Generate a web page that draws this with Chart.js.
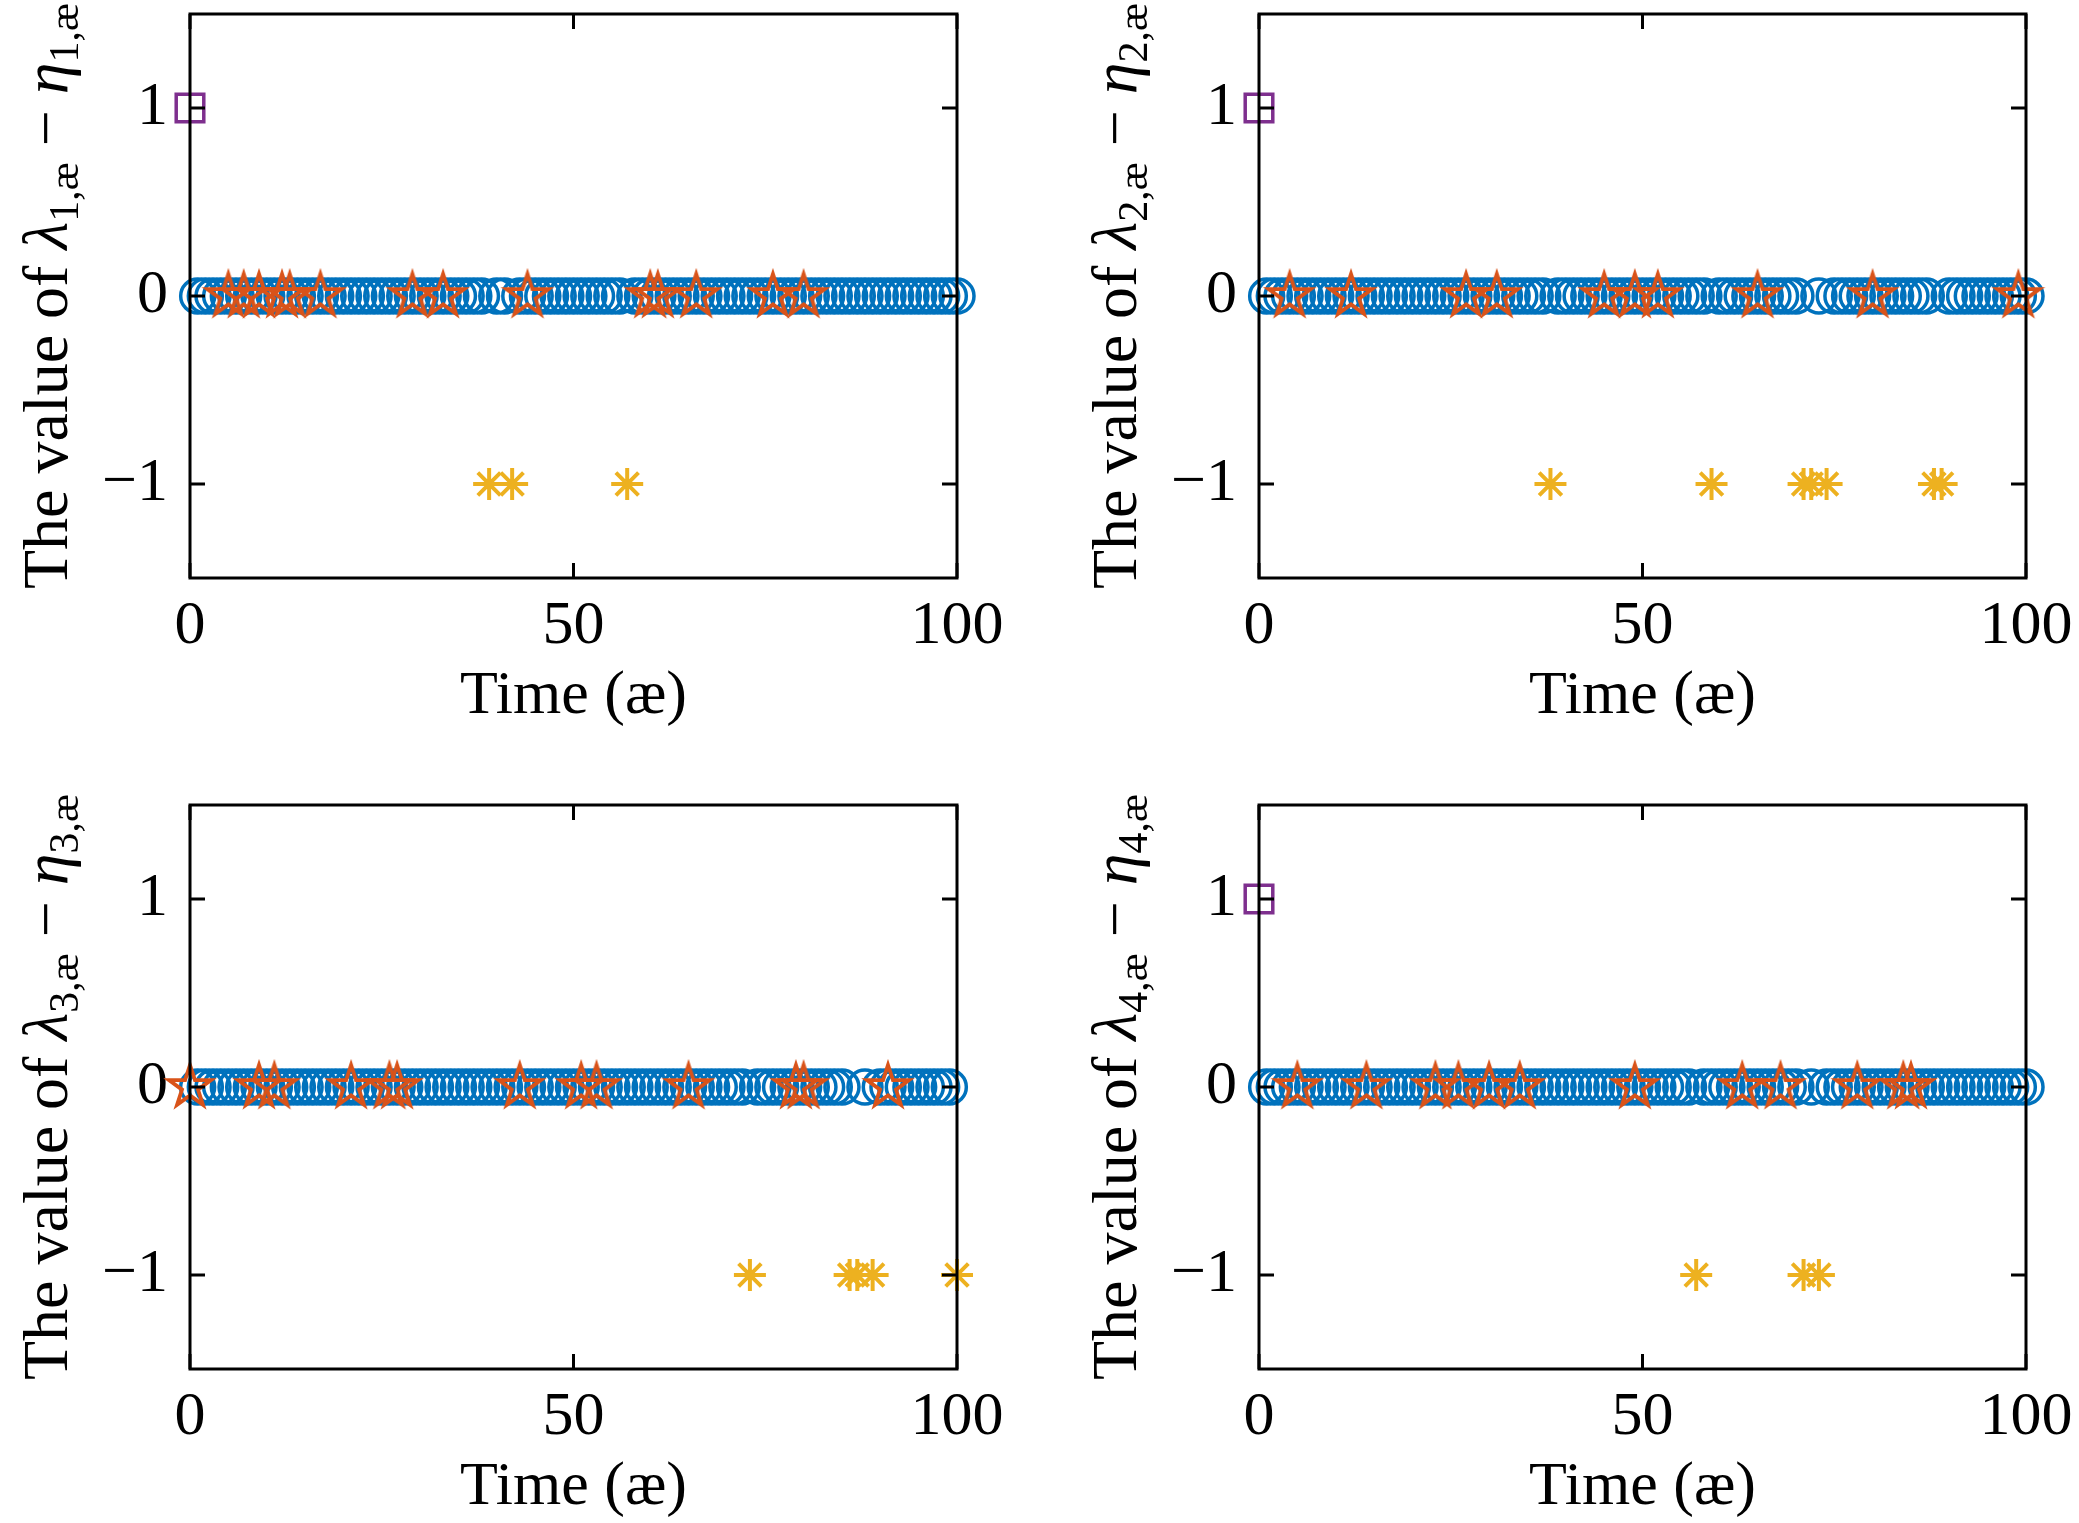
<!DOCTYPE html>
<html>
<head>
<meta charset="utf-8">
<script src="https://cdn.jsdelivr.net/npm/chart.js@4.4.1/dist/chart.umd.min.js"></script>
<style>
  html, body { margin: 0; padding: 0; background: #fff; }
  body { width: 2079px; height: 1523px; position: relative; overflow: hidden; }
  canvas { position: absolute; }
</style>
</head>
<body>
<canvas id="p1" width="1040" height="762" style="left:0px;top:0px"></canvas>
<canvas id="p2" width="1040" height="762" style="left:1069px;top:0px"></canvas>
<canvas id="p3" width="1040" height="732" style="left:0px;top:791px"></canvas>
<canvas id="p4" width="1040" height="732" style="left:1069px;top:791px"></canvas>
<script>
// ---------------- data ----------------
const xTicks = [0, 50, 100];
const yTicks = [-1, 0, 1];
const timeSteps = Array.from({ length: 100 }, (_, i) => i + 1);

// panel 1
const stars1 = [5, 7, 9, 12, 13, 17, 29, 33, 44, 60, 61, 66, 76, 80];
const minus1 = [39, 42, 57];
const plus1 = [0];
// panel 2
const stars2 = [4, 12, 27, 31, 45, 49, 52, 65, 80, 99];
const minus2 = [38, 59, 71, 72, 74, 88, 89];
const plus2 = [0];
// panel 3
const stars3 = [0, 9, 11, 21, 26, 27, 43, 51, 53, 65, 79, 80, 91];
const minus3 = [73, 86, 87, 89, 100];
const plus3 = [];
// panel 4
const stars4 = [5, 14, 23, 26, 30, 34, 49, 63, 68, 78, 84, 85];
const minus4 = [57, 71, 73];
const plus4 = [0];

// ---------------- styles ----------------
const BLUE = "#0072BD";
const ORANGE = "#D95319";
const YELLOW = "#EDB120";
const PURPLE = "#7E2F8E";
const FONT = "Liberation Serif";
const FSIZE = 62;
const AREA_TOP = 14;
const AREA_BOTTOM = 578;

const fmt = (v) => (v < 0 ? "\u2212" + Math.abs(v) : String(v));

// MATLAB-like pentagram marker as an image
function makePentagram(R, lw, color) {
  const c = document.createElement("canvas");
  const s = Math.ceil(2 * R + 2 * lw + 4);
  c.width = s;
  c.height = s;
  const g = c.getContext("2d");
  g.translate(s / 2, s / 2);
  g.beginPath();
  for (let i = 0; i < 10; i++) {
    const a = -Math.PI / 2 + (i * Math.PI) / 5;
    const r = i % 2 === 0 ? R : R * 0.382;
    const px = r * Math.cos(a);
    const py = r * Math.sin(a);
    if (i === 0) g.moveTo(px, py);
    else g.lineTo(px, py);
  }
  g.closePath();
  g.strokeStyle = color;
  g.lineWidth = lw;
  g.lineJoin = "miter";
  g.stroke();
  return c;
}
const pentagram = makePentagram(22, 3.8, ORANGE);

// frame + inward ticks on all four sides
const boxPlugin = {
  id: "box",
  afterDatasetsDraw(chart) {
    const { ctx, chartArea: a, scales } = chart;
    const tl = 15;
    ctx.save();
    ctx.strokeStyle = "#000";
    ctx.lineWidth = 3;
    ctx.beginPath();
    scales.x.ticks.forEach((t) => {
      const px = scales.x.getPixelForValue(t.value);
      ctx.moveTo(px, a.bottom);
      ctx.lineTo(px, a.bottom - tl);
      ctx.moveTo(px, a.top);
      ctx.lineTo(px, a.top + tl);
    });
    scales.y.ticks.forEach((t) => {
      const py = scales.y.getPixelForValue(t.value);
      ctx.moveTo(a.left, py);
      ctx.lineTo(a.left + tl, py);
      ctx.moveTo(a.right, py);
      ctx.lineTo(a.right - tl, py);
    });
    ctx.stroke();
    ctx.lineJoin = "miter";
    ctx.strokeRect(a.left, a.top, a.right - a.left, a.bottom - a.top);
    ctx.restore();
  },
};

// rotated y label with italic greek letters and subscripts
const yTitlePlugin = {
  id: "yTitle",
  afterDraw(chart, args, opts) {
    const { ctx, chartArea: a } = chart;
    const sub = opts.index + ",\u00e6";
    const size = 64;
    const subSize = 42;
    const parts = [
      { t: "The value of ", f: `${size}px "${FONT}"`, dy: 0 },
      { t: "\u03bb", f: `italic ${size}px "${FONT}"`, dy: 0 },
      { t: sub, f: `${subSize}px "${FONT}"`, dy: 11 },
      { t: " \u2212 ", f: `${size}px "${FONT}"`, dy: 0 },
      { t: "\u03b7", f: `italic ${size}px "${FONT}"`, dy: 0 },
      { t: sub, f: `${subSize}px "${FONT}"`, dy: 11 },
    ];
    ctx.save();
    let total = 0;
    parts.forEach((p) => {
      ctx.font = p.f;
      p.w = ctx.measureText(p.t).width;
      total += p.w;
    });
    ctx.translate(opts.x, (a.top + a.bottom) / 2);
    ctx.rotate(-Math.PI / 2);
    ctx.fillStyle = "#000";
    ctx.textBaseline = "alphabetic";
    ctx.textAlign = "left";
    let x = -total / 2;
    parts.forEach((p) => {
      ctx.font = p.f;
      ctx.fillText(p.t, x, p.dy);
      x += p.w;
    });
    ctx.restore();
  },
};

const zeroPad = (s) => {
  s.paddingTop = 0;
  s.paddingBottom = 0;
  s.paddingLeft = 0;
  s.paddingRight = 0;
};

function buildChart(id, k, stars, minus, plus) {
  const canvas = document.getElementById(id);
  const H = canvas.height;
  const circles = timeSteps
    .filter((t) => !minus.includes(t) && !plus.includes(t))
    .map((t) => ({ x: t, y: 0 }));

  return new Chart(canvas.getContext("2d"), {
    type: "scatter",
    data: {
      datasets: [
        {
          label: "plus",
          data: plus.map((t) => ({ x: t, y: 1 })),
          pointStyle: "rect",
          pointRadius: 19.5,
          borderColor: PURPLE,
          backgroundColor: "rgba(0,0,0,0)",
          borderWidth: 3.5,
          clip: false,
        },
        {
          label: "minus",
          data: minus.map((t) => ({ x: t, y: -1 })),
          pointStyle: "star",
          pointRadius: 16,
          borderColor: YELLOW,
          backgroundColor: YELLOW,
          borderWidth: 4,
          clip: false,
        },
        {
          label: "stars",
          data: stars.map((t) => ({ x: t, y: 0 })),
          pointStyle: pentagram,
          pointRadius: 22,
          clip: false,
        },
        {
          label: "zero",
          data: circles,
          pointStyle: "circle",
          pointRadius: 17,
          borderColor: BLUE,
          backgroundColor: "rgba(0,0,0,0)",
          borderWidth: 3.5,
          clip: false,
        },
      ],
    },
    options: {
      responsive: false,
      devicePixelRatio: 1,
      animation: false,
      events: [],
      layout: {
        autoPadding: false,
        padding: { top: AREA_TOP, right: 83, left: 0, bottom: 0 },
      },
      plugins: {
        legend: { display: false },
        tooltip: { enabled: false },
        yTitle: { index: k, x: 67 },
      },
      scales: {
        x: {
          type: "linear",
          min: 0,
          max: 100,
          afterBuildTicks: (s) => {
            s.ticks = xTicks.map((v) => ({ value: v }));
          },
          afterFit: (s) => {
            s.height = H - AREA_BOTTOM;
            zeroPad(s);
          },
          grid: { display: false, drawTicks: false },
          border: { display: false },
          ticks: {
            padding: 12,
            color: "#000",
            maxRotation: 0,
            autoSkip: false,
            font: { family: FONT, size: FSIZE },
            callback: fmt,
          },
          title: {
            display: true,
            text: "Time (\u00e6)",
            color: "#000",
            font: { family: FONT, size: FSIZE },
            padding: { top: 0, bottom: H - 697 - (FSIZE * 1.2) / 2 },
          },
        },
        y: {
          type: "linear",
          min: -1.5,
          max: 1.5,
          afterBuildTicks: (s) => {
            s.ticks = yTicks.map((v) => ({ value: v }));
          },
          afterFit: (s) => {
            s.width = 190;
            zeroPad(s);
          },
          grid: { display: false, drawTicks: false },
          border: { display: false },
          ticks: {
            padding: 22,
            color: "#000",
            autoSkip: false,
            font: { family: FONT, size: FSIZE },
            callback: fmt,
          },
        },
      },
    },
    plugins: [boxPlugin, yTitlePlugin],
  });
}

buildChart("p1", 1, stars1, minus1, plus1);
buildChart("p2", 2, stars2, minus2, plus2);
buildChart("p3", 3, stars3, minus3, plus3);
buildChart("p4", 4, stars4, minus4, plus4);
</script>
</body>
</html>
